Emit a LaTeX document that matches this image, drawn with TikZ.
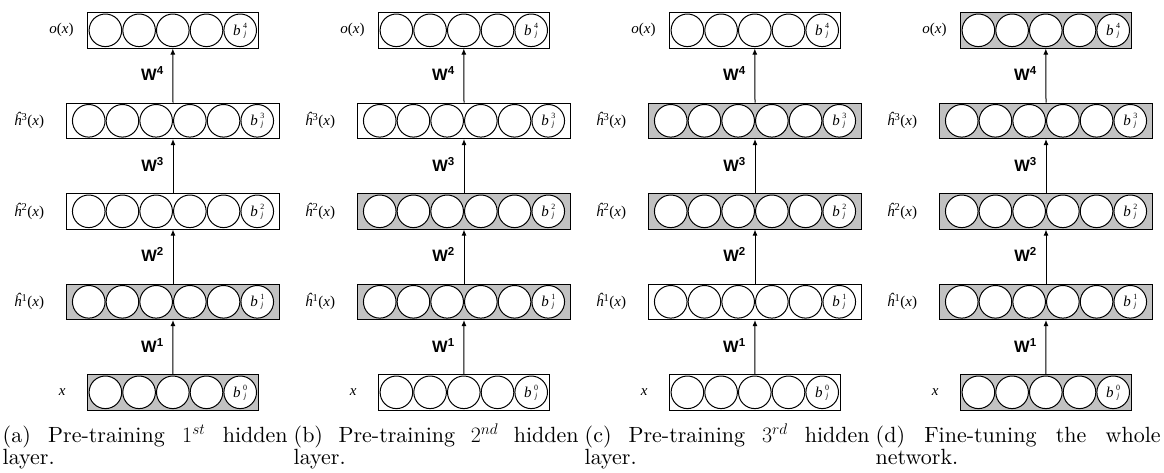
\RequirePackage{fix-cm}
\documentclass[tikz,border=0pt]{standalone}
\usepackage{fontspec}
\newfontfamily\labelfont{Liberation Serif}
\newfontfamily\wfont{Liberation Sans}
\newfontfamily\capfont{lmroman10-regular.otf}[ItalicFont=lmroman10-italic.otf]
\usetikzlibrary{arrows.meta,calc}
\definecolor{layergrey}{gray}{0.76}

% font sizes used in the figure
\newcommand{\capsize}{\capfont\fontsize{17.6}{17.6}\selectfont}
\newcommand{\labsize}{\labelfont\fontsize{15}{15}\selectfont}
\newcommand{\wsize}{\wfont\bfseries\fontsize{16.5}{16.5}\selectfont}
% caption lines are set at 17.6pt and enlarged as a whole
\newcommand{\capline}[2][]{\scalebox{1.25}{\capsize\ifx\relax#1\relax#2\else\makebox[#1][s]{#2}\fi}}

% bias unit text: b with a stacked layer index and j
\newcommand{\biaslabel}[1]{%
  {\labelfont\fontsize{15}{15}\selectfont\itshape b}\kern2.5pt%
  \raisebox{3pt}{\labelfont\fontsize{8}{9}\selectfont
    \begin{tabular}{@{}c@{}}#1\\[-1pt]\itshape j\end{tabular}}}

% one layer: #1 name, #2 centre x, #3 centre y, #4 plain units,
% #5 box width, #6 box fill, #7 bias index
\newcommand{\netlayer}[7]{%
  \node[layerbox, fill=#6, minimum width=#5] (#1) at (#2,#3) {};
  \pgfmathsetmacro\firstx{#2-#4*16.85}%
  \foreach \k in {1,...,#4}{\node[unit] (#1-\k) at ({\firstx+(\k-1)*33.7},#3) {};}
  \node[unit] (#1-b) at ({#2+#4*16.85},#3) {\biaslabel{#7}};
}

% one network panel: #1 prefix, #2 x offset, #3..#7 fills (out, h3, h2, h1, in),
% #8 first caption line, #9 second caption line
\newcommand{\netpanel}[9]{%
  \netlayer{#1-out}{#2+172.8}{30.3}{4}{171pt}{#3}{4}
  \netlayer{#1-h3}{#2+173}{120.8}{5}{212.6pt}{#4}{3}
  \netlayer{#1-h2}{#2+173}{211.3}{5}{212.6pt}{#5}{2}
  \netlayer{#1-h1}{#2+173}{301.8}{5}{212.6pt}{#6}{1}
  \netlayer{#1-in}{#2+172.8}{392.3}{4}{171pt}{#7}{0}
  \draw[conn] (#1-in.north) -- (#1-h1.south);
  \draw[conn] (#1-h1.north) -- (#1-h2.south);
  \draw[conn] (#1-h2.north) -- (#1-h3.south);
  \draw[conn] (#1-h3.north) -- (#1-out.south);
  \node[wlabel] (#1-w1) at ($(#1-in.north)!0.5!(#1-h1.south)+(-9,-2)$) {\wsize W\textsuperscript{1}};
  \node[wlabel] (#1-w2) at ($(#1-h1.north)!0.5!(#1-h2.south)+(-9,-2)$) {\wsize W\textsuperscript{2}};
  \node[wlabel] (#1-w3) at ($(#1-h2.north)!0.5!(#1-h3.south)+(-9,-2)$) {\wsize W\textsuperscript{3}};
  \node[wlabel] (#1-w4) at ($(#1-h3.north)!0.5!(#1-out.south)+(-9,-2)$) {\wsize W\textsuperscript{4}};
  \node[layerlabel] (#1-lout) at ($(#1-out.west)+(-13,0)$) {\labsize\itshape o\upshape(\itshape x\upshape)};
  \node[layerlabel] (#1-lh3) at ($(#1-h3.west)+(-22,0)$) {\labsize{\itshape ĥ}\textsuperscript{3}(\itshape x\upshape)};
  \node[layerlabel] (#1-lh2) at ($(#1-h2.west)+(-22,0)$) {\labsize{\itshape ĥ}\textsuperscript{2}(\itshape x\upshape)};
  \node[layerlabel] (#1-lh1) at ($(#1-h1.west)+(-22,0)$) {\labsize{\itshape ĥ}\textsuperscript{1}(\itshape x\upshape)};
  \node[layerlabel] (#1-lin) at ($(#1-in.west)+(-21,0)$) {\labsize\itshape x};
  \node[captext] (#1-cap1) at (#2+2.5,442.7) {\capline[228pt]{#8}};
  \node[captext] (#1-cap2) at (#2+2.5,464.3) {\capline{#9}};
}

\begin{document}
\begin{tikzpicture}[x=1pt,y=-1pt,
  layerbox/.style={draw, line width=1pt, minimum height=35.5pt, inner sep=0pt},
  unit/.style={circle, draw, fill=white, line width=1pt, minimum size=32.6pt, inner sep=0pt},
  conn/.style={line width=1pt, -{Latex[length=6pt,width=5pt]}},
  wlabel/.style={anchor=east, inner sep=0pt},
  layerlabel/.style={anchor=east, inner sep=0pt},
  captext/.style={anchor=base west, inner sep=0pt},
]
\useasboundingbox (0,0) rectangle (1164,472);
\netpanel{a}{0}{white}{white}{white}{layergrey}{layergrey}{(a) Pre-training $1^{st}$ hidden}{layer.}
\netpanel{b}{291}{white}{white}{layergrey}{layergrey}{white}{(b) Pre-training $2^{nd}$ hidden}{layer.}
\netpanel{c}{582}{white}{layergrey}{layergrey}{white}{white}{(c) Pre-training $3^{rd}$ hidden}{layer.}
\netpanel{d}{873}{layergrey}{layergrey}{layergrey}{layergrey}{layergrey}{(d) Fine-tuning the whole}{network.}
\end{tikzpicture}
\end{document}
